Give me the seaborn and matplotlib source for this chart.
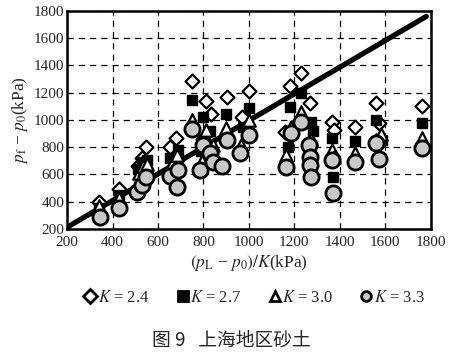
import pandas as pd
import seaborn as sns
import matplotlib.pyplot as plt
from matplotlib.lines import Line2D

sns.set_style('white')
plt.rcParams['font.family'] = ['Liberation Serif', 'DejaVu Serif']
plt.rcParams['mathtext.fontset'] = 'stix'

# K = 2.4 (open diamonds)
K24_X = [340, 428, 512, 530, 548, 652, 680, 750, 800, 810, 835, 905, 970, 1000,
         1160, 1180, 1230, 1270, 1365, 1375, 1465, 1560, 1570, 1760]
K24_Y = [400, 495, 665, 720, 805, 800, 870, 1285, 860, 1140, 1045, 1170, 1020, 1215,
         910, 1250, 1345, 1125, 985, 930, 950, 1125, 980, 1100]
# K = 2.7 (filled squares)
K27_X = [340, 428, 510, 530, 552, 655, 690, 750, 790, 800, 830, 900, 975, 1000,
         1170, 1180, 1230, 1275, 1280, 1365, 1370, 1465, 1560, 1585, 1760]
K27_Y = [355, 450, 640, 690, 705, 720, 780, 1150, 770, 1020, 920, 1045, 950, 1090,
         800, 1095, 1200, 985, 920, 870, 580, 845, 1000, 855, 980]
# K = 3.0 (open triangles)
K30_X = [340, 428, 515, 535, 550, 660, 685, 750, 795, 810, 840, 900, 965, 1000,
         1165, 1185, 1230, 1275, 1365, 1375, 1465, 1560, 1580, 1760]
K30_Y = [370, 430, 610, 660, 680, 680, 740, 1000, 700, 930, 820, 940, 820, 1000,
         740, 950, 1060, 860, 780, 730, 760, 850, 900, 870]
# K = 3.3 (grey circles)
K33_X = [345, 430, 508, 530, 548, 655, 685, 690, 750, 785, 800, 830, 840, 880, 905,
         960, 1000, 1165, 1185, 1230, 1265, 1268, 1270, 1275, 1365, 1370, 1465,
         1560, 1570, 1760]
K33_Y = [285, 355, 475, 520, 585, 590, 510, 630, 935, 630, 820, 760, 690, 660, 850,
         755, 890, 655, 905, 985, 815, 730, 670, 585, 705, 465, 695,
         830, 710, 795]

# fitted line
LINE_X = [210, 1780]
LINE_Y = [222, 1760]

LABELS = ['$K$ = 2.4', '$K$ = 2.7', '$K$ = 3.0', '$K$ = 3.3']


def main():
    fig = plt.figure(figsize=(4.53, 3.55), dpi=100)
    ax = fig.add_axes([0.148, 0.355, 0.803, 0.614])

    ax.grid(True, color='black', linestyle=(0, (5, 4)), linewidth=0.9)
    ax.set_axisbelow(True)

    sns.lineplot(x=LINE_X, y=LINE_Y, ax=ax, color='black', linewidth=3.8, zorder=2)

    styles = [
        (K24_X, K24_Y, dict(marker='D', s=50, facecolor='white', edgecolor='black', linewidth=1.6)),
        (K27_X, K27_Y, dict(marker='s', s=60, facecolor='black', edgecolor='black', linewidth=1)),
        (K30_X, K30_Y, dict(marker='^', s=80, facecolor='white', edgecolor='black', linewidth=1.6)),
        (K33_X, K33_Y, dict(marker='o', s=120, facecolor='#c8c8c8', edgecolor='black', linewidth=2)),
    ]
    handles = []
    for (xs, ys, kw), lab in zip(styles, LABELS):
        df = pd.DataFrame({'x': xs, 'y': ys})
        sns.scatterplot(data=df, x='x', y='y', ax=ax, zorder=3, **kw)
        handles.append(Line2D([], [], linestyle='none', marker=kw['marker'],
                              markersize=7, markerfacecolor=kw['facecolor'],
                              markeredgecolor='black', markeredgewidth=2, label=lab))

    ax.set_xlim(200, 1800)
    ax.set_ylim(200, 1800)
    ax.set_xticks(range(200, 1801, 200))
    ax.set_yticks(range(200, 1801, 200))
    ax.tick_params(axis='x', length=0, labelsize=11, pad=5)
    ax.tick_params(axis='y', length=0, labelsize=11, pad=2)
    for sp in ax.spines.values():
        sp.set_color('black')
        sp.set_linewidth(1.8)

    ax.set_xlabel(r'$(p_{\mathrm{L}}$ − $p_0)/K$(kPa)', fontsize=12.5, labelpad=3)
    ax.set_ylabel(r'$p_{\mathrm{f}}$ − $p_0$(kPa)', fontsize=12.5, labelpad=3)

    fig.legend(handles=handles, loc='center', bbox_to_anchor=(0.561, 0.16), ncol=4,
               frameon=False, fontsize=12, handletextpad=0.05, columnspacing=1.6,
               handlelength=0.8)

    fig.text(0.51, 0.042, '图 9   上海地区砂土', ha='center', va='center', fontsize=13.5,
             family=['Noto Sans CJK SC', 'DejaVu Sans'])

    fig.savefig('out.png', dpi=100)
    plt.close(fig)


if __name__ == '__main__':
    main()
